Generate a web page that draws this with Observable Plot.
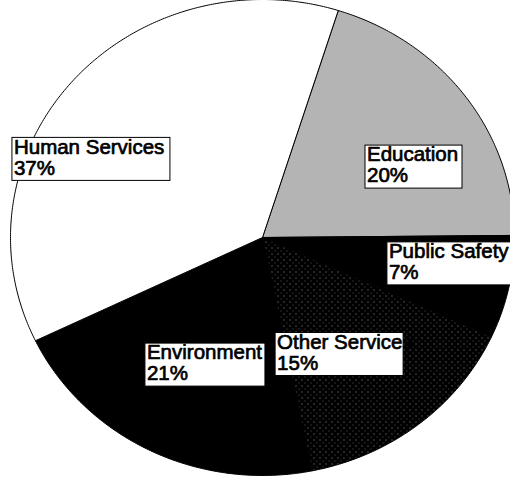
<!DOCTYPE html>
<html><head><meta charset="utf-8">
<script src="https://cdn.jsdelivr.net/npm/d3@7"></script>
<script src="https://cdn.jsdelivr.net/npm/@observablehq/plot@0.6"></script>
<style>body{margin:0;background:#fff}</style>
</head><body><div id="chart"></div>
<script>
// ---- data ----
const categories = ["Education", "Public Safety", "Other Services", "Environment", "Human Services"];
const shares = [20, 7, 15, 21, 37];

// ---- styles / layout ----
const sliceFills = ["url(#pat-edu)", "#000", "url(#pat-other)", "#000", "#fff"];
const W = 510, H = 478;
const cx = 262, cy = 237, rx = 252, ry = 238;   // pie centre and radii in pixels
const startAngle = 17.5;                        // degrees clockwise from 12 o'clock
const labelShift = [10.3, -3.6, 6.4, -3.6, -15.1];      // degrees from slice middle
const labelRadius = [0.670, 0.750, 0.579, 0.582, 0.754];
const boxWidth = [97, 124, 128, 120, 158];
const boxHeight = 43;

const total = d3.sum(shares);
const rad = d => d * Math.PI / 180;
let acc = startAngle;
const slices = categories.map((name, i) => {
  const a0 = acc, a1 = acc + shares[i] / total * 360; acc = a1;
  return {name, a0, a1, mid: (a0 + a1) / 2, fill: sliceFills[i], i};
});
const pts = [];
for (const s of slices) {
  pts.push({name: s.name, fill: s.fill, x: 0, y: 0});
  const n = Math.ceil((s.a1 - s.a0) / 0.5);
  for (let k = 0; k <= n; k++) {
    const a = rad(s.a0 + (s.a1 - s.a0) * k / n);
    pts.push({name: s.name, fill: s.fill, x: Math.sin(a), y: Math.cos(a)});
  }
  pts.push({name: s.name, fill: s.fill, x: 0, y: 0});
}
const labels = slices.map(s => {
  const a = rad(s.mid + labelShift[s.i]), r = labelRadius[s.i];
  const lx = r * Math.sin(a), ly = r * Math.cos(a);
  const hw = boxWidth[s.i] / 2 / rx, hh = boxHeight / 2 / ry;
  return {x1: lx - hw, x2: lx + hw, y1: ly - hh, y2: ly + hh,
          tx: lx - hw + 1.5 / rx, ty: ly + hh - 1 / ry,
          text: s.name + "\n" + shares[s.i] + "%"};
});

const svg = Plot.plot({
  width: W, height: H, margin: 0,
  x: {axis: null, domain: [-cx / rx, (W - cx) / rx]},
  y: {axis: null, domain: [-(H - cy) / ry, cy / ry]},
  style: {fontFamily: "'Liberation Sans', Arial, sans-serif", background: "#fff"},
  marks: [
    Plot.line(pts, {x: "x", y: "y", z: "name", fill: "fill", stroke: "#000", strokeWidth: 1, strokeLinejoin: "round"}),
    Plot.rect(labels, {x1: "x1", x2: "x2", y1: "y1", y2: "y2", fill: "#fff", stroke: "#000", strokeWidth: 1}),
    Plot.text(labels, {x: "tx", y: "ty", text: "text", textAnchor: "start", lineAnchor: "top",
      fontSize: 20.5, lineHeight: 1.02, fill: "#000", stroke: "#000", strokeWidth: 0.7})
  ]
});

const defs = d3.select(svg).insert("defs", ":first-child");
const pe = defs.append("pattern").attr("id", "pat-edu").attr("patternUnits", "userSpaceOnUse")
  .attr("width", 2).attr("height", 2);
pe.append("rect").attr("width", 2).attr("height", 2).attr("fill", "#fff");
pe.append("rect").attr("x", 0).attr("y", 0).attr("width", 1).attr("height", 1).attr("fill", "#333");
pe.append("rect").attr("x", 1).attr("y", 1).attr("width", 1).attr("height", 1).attr("fill", "#a0a0a0");
const po = defs.append("pattern").attr("id", "pat-other").attr("patternUnits", "userSpaceOnUse")
  .attr("width", 6).attr("height", 6);
po.append("rect").attr("width", 6).attr("height", 6).attr("fill", "#000");
po.append("rect").attr("x", 1).attr("y", 1).attr("width", 1).attr("height", 1).attr("fill", "#999");
po.append("rect").attr("x", 4).attr("y", 4).attr("width", 1).attr("height", 1).attr("fill", "#555");

document.getElementById("chart").appendChild(svg);
</script>
</body></html>
